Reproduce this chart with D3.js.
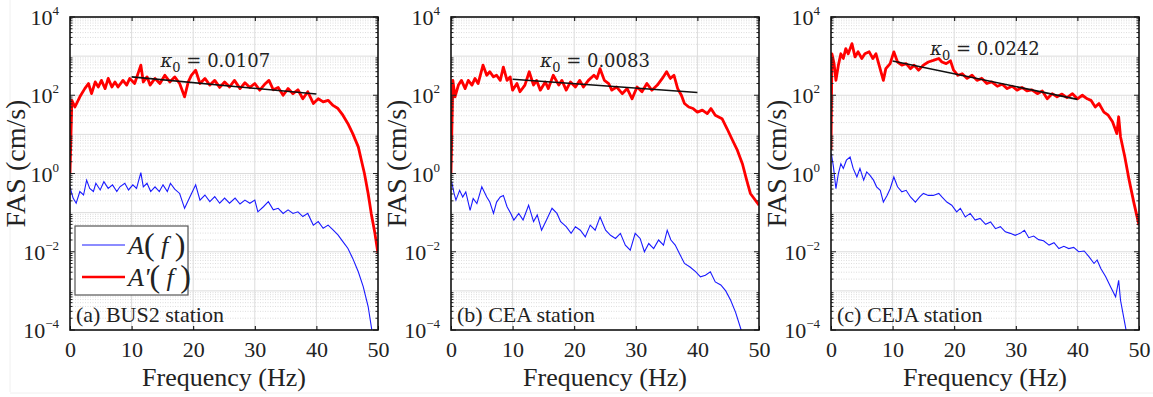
<!DOCTYPE html>
<html>
<head>
<meta charset="utf-8">
<script src="https://cdn.jsdelivr.net/npm/d3@7"></script>
</head>
<body style="margin:0">
<svg id="fas" width="1153" height="397"></svg>
<script>
// each point is [frequency (Hz), log10 of FAS (cm/s)]
const busRed = [[0,0.0],[0.3,1.87],[0.8,1.70],[1.6,1.96],[2.4,2.17],[3.0,2.30],[3.5,2.04],[4.1,2.34],[4.6,2.21],[5.1,2.38],[5.7,2.17],[6.2,2.43],[6.8,2.21],[7.3,2.34],[7.8,2.21],[8.6,2.38],[9.2,2.26],[9.7,2.43],[10.5,2.30],[11.5,2.77],[11.9,2.34],[12.5,2.47],[13.0,2.26],[13.8,2.43],[14.6,2.30],[15.4,2.51],[16.2,2.34],[17.0,2.47],[17.8,2.30],[18.6,1.96],[19.2,2.34],[19.7,2.51],[20.4,2.64],[21.1,2.30],[21.9,2.43],[22.7,2.26],[23.5,2.38],[24.3,2.20],[25.1,2.34],[25.9,2.21],[26.7,2.38],[27.6,2.17],[28.4,2.32],[29.2,2.20],[30.0,2.30],[30.8,2.13],[31.6,2.28],[32.3,2.38],[33.0,2.14],[33.8,2.20],[34.6,2.00],[35.4,2.17],[36.2,2.04],[37.0,2.14],[37.8,1.91],[38.6,2.09],[39.5,1.79],[40.3,1.91],[41.1,1.83],[41.9,1.87],[42.7,1.74],[43.5,1.66],[44.3,1.49],[45.1,1.28],[45.9,1.02],[46.8,0.68],[47.3,0.34],[47.8,0.0],[48.4,-0.51],[48.9,-1.02],[49.5,-1.53],[50.0,-2.05]];
const busBlue = [[0,-0.34],[0.5,-0.63],[1.0,-0.76],[1.6,-0.46],[2.2,-0.55],[2.7,-0.17],[3.2,-0.38],[3.8,-0.46],[4.2,-0.25],[4.9,-0.42],[5.5,-0.21],[6.2,-0.38],[6.9,-0.29],[7.6,-0.46],[8.1,-0.34],[8.9,-0.25],[9.5,-0.42],[10.2,-0.29],[10.8,-0.38],[11.5,0.02],[11.9,-0.34],[12.5,-0.25],[13.1,-0.46],[13.8,-0.34],[14.5,-0.46],[15.1,-0.29],[15.8,-0.46],[16.3,-0.25],[17.0,-0.40],[17.8,-0.51],[18.6,-0.89],[19.5,-0.59],[20.4,-0.29],[21.1,-0.68],[21.9,-0.55],[22.7,-0.72],[23.5,-0.59],[24.3,-0.76],[25.1,-0.63],[25.9,-0.76],[26.8,-0.63],[27.6,-0.78],[28.4,-0.68],[29.2,-0.76],[30.0,-0.68],[30.5,-0.98],[31.4,-0.85],[32.2,-0.72],[33.0,-0.93],[33.8,-0.89],[34.6,-1.02],[35.4,-0.93],[36.2,-1.02],[37.0,-0.98],[37.8,-1.10],[38.6,-1.02],[39.5,-1.32],[40.3,-1.23],[41.1,-1.40],[41.9,-1.32],[42.7,-1.44],[43.5,-1.57],[44.3,-1.74],[45.1,-1.91],[45.9,-2.17],[46.8,-2.51],[47.6,-2.89],[48.4,-3.40],[49.0,-4.0],[49.3,-4.3]];
const ceaRed = [[0,0.0],[0.3,2.38],[0.65,1.96],[1.2,2.26],[1.7,2.38],[2.3,2.17],[2.8,2.38],[3.4,2.26],[3.9,2.43],[4.4,2.30],[5.2,2.77],[5.8,2.51],[6.3,2.60],[6.9,2.47],[7.4,2.51],[8.0,2.38],[8.5,2.72],[9.1,2.38],[9.6,2.47],[10.0,2.13],[10.7,2.30],[11.2,2.09],[12.0,2.26],[12.7,2.60],[13.4,2.26],[13.9,2.38],[14.5,2.13],[15.3,2.34],[15.8,2.17],[16.6,2.51],[17.5,2.26],[18.0,2.38],[18.7,2.13],[19.4,2.34],[20.2,2.21],[20.9,2.38],[21.5,2.21],[22.3,2.38],[23.2,2.51],[23.7,2.43],[24.2,2.68],[24.9,2.38],[25.6,2.30],[26.1,2.13],[26.9,2.21],[27.8,2.04],[28.6,2.17],[29.4,1.91],[30.2,2.21],[31.0,2.09],[31.8,2.30],[32.6,2.13],[33.5,2.26],[34.3,2.43],[35.0,2.60],[35.6,2.43],[36.2,2.51],[36.8,2.17],[37.4,2.00],[37.9,1.79],[38.6,1.70],[39.3,1.66],[40.0,1.57],[40.8,1.62],[41.6,1.53],[42.2,1.66],[42.9,1.49],[44.0,1.40],[44.8,1.15],[45.7,0.85],[46.5,0.59],[47.3,0.25],[48.0,-0.17],[48.6,-0.51],[49.2,-0.64],[50.0,-0.81]];
const ceaBlue = [[0.1,-0.21],[0.5,-0.51],[0.8,-0.68],[1.4,-0.43],[1.9,-0.60],[2.4,-0.47],[3.1,-0.94],[3.6,-0.64],[4.2,-0.77],[5.0,-0.34],[5.8,-0.60],[6.3,-0.73],[6.9,-1.02],[7.4,-0.73],[8.0,-0.60],[8.5,-0.56],[9.1,-0.85],[9.7,-1.02],[10.2,-1.19],[11.0,-1.02],[11.7,-1.19],[12.6,-0.81],[13.4,-1.23],[14.0,-1.06],[14.7,-1.45],[15.5,-1.19],[16.4,-0.89],[17.2,-1.02],[17.8,-1.23],[18.7,-1.36],[19.5,-1.53],[20.2,-1.36],[21.0,-1.45],[21.8,-1.62],[22.6,-1.32],[23.4,-1.45],[24.2,-1.11],[25.1,-1.45],[25.9,-1.58],[26.7,-1.66],[27.5,-1.53],[28.3,-1.83],[29.1,-1.96],[29.9,-1.53],[30.7,-1.66],[31.4,-2.00],[32.1,-1.79],[32.9,-1.92],[33.7,-1.70],[34.5,-1.83],[35.1,-1.45],[35.7,-1.70],[36.4,-1.83],[37.1,-2.05],[37.9,-2.30],[38.8,-2.39],[39.7,-2.51],[40.5,-2.64],[41.3,-2.60],[42.1,-2.51],[42.9,-2.77],[43.8,-2.85],[44.6,-3.00],[45.4,-3.24],[46.2,-3.55],[47.1,-4.0],[47.4,-4.3]];
const cejaRed = [[0,0.6],[0.15,3.06],[0.5,2.81],[0.8,2.38],[1.2,2.77],[1.6,3.06],[2.0,2.94],[2.4,3.19],[2.8,3.06],[3.4,3.32],[3.9,2.98],[4.4,3.11],[5.0,2.94],[5.5,3.06],[6.2,3.11],[6.8,2.94],[7.3,3.06],[7.9,2.72],[8.5,2.38],[8.9,2.68],[9.6,2.81],[10.2,3.11],[10.8,2.85],[11.5,2.77],[12.2,2.81],[12.9,2.68],[13.5,2.77],[14.2,2.64],[15.0,2.77],[15.8,2.85],[16.6,2.89],[17.5,2.94],[18.0,2.85],[18.7,2.81],[19.4,2.88],[19.9,2.64],[20.6,2.51],[21.3,2.55],[22.1,2.43],[22.9,2.51],[23.7,2.38],[24.5,2.43],[25.3,2.30],[26.1,2.34],[27.0,2.23],[27.8,2.28],[28.6,2.17],[29.4,2.23],[30.2,2.13],[31.0,2.20],[31.8,2.11],[32.6,2.14],[33.5,2.04],[34.3,2.11],[35.1,1.91],[35.9,2.04],[36.7,1.96],[37.5,2.03],[38.3,1.94],[39.2,2.04],[40.0,1.91],[40.8,2.00],[41.6,1.91],[42.2,1.87],[42.9,1.70],[43.5,1.79],[44.3,1.57],[45.0,1.49],[45.7,1.32],[46.4,1.02],[46.7,1.45],[47.0,0.94],[47.7,0.42],[48.4,-0.17],[49.2,-0.77],[50.0,-1.32]];
const cejaBlue = [[0.05,0.51],[0.4,0.17],[0.8,-0.39],[1.2,0.0],[1.6,0.25],[2.0,0.13],[2.5,0.34],[3.1,0.42],[3.6,0.13],[4.2,-0.09],[4.7,0.13],[5.3,-0.17],[5.8,0.04],[6.3,-0.04],[6.9,-0.17],[7.4,-0.34],[8.0,-0.43],[8.5,-0.73],[9.1,-0.56],[9.6,-0.39],[10.2,-0.09],[10.8,-0.34],[11.5,-0.47],[12.2,-0.43],[12.9,-0.60],[13.7,-0.73],[14.4,-0.60],[15.0,-0.51],[15.8,-0.56],[16.6,-0.56],[17.5,-0.51],[18.0,-0.60],[18.8,-0.73],[19.6,-0.81],[20.4,-0.98],[21.0,-0.89],[21.8,-1.11],[22.6,-1.02],[23.4,-1.19],[24.2,-1.15],[25.1,-1.30],[25.9,-1.24],[26.7,-1.41],[27.5,-1.36],[28.3,-1.49],[29.1,-1.53],[29.9,-1.58],[30.7,-1.53],[31.4,-1.45],[32.1,-1.64],[32.9,-1.60],[33.7,-1.69],[34.5,-1.72],[35.4,-1.83],[36.2,-1.77],[37.0,-1.92],[37.8,-1.86],[38.6,-1.92],[39.4,-1.89],[40.2,-2.00],[41.1,-1.98],[41.9,-2.13],[42.7,-2.30],[43.2,-2.21],[43.8,-2.43],[44.6,-2.64],[45.4,-2.90],[46.2,-3.15],[46.7,-2.73],[47.0,-3.24],[47.6,-3.75],[47.9,-4.0],[48.1,-4.3]];

// kappa fit lines, 10 to 40 Hz, endpoints as log10 FAS
const fitFreq = [10, 40];
const busFit = [2.47, 2.03];
const ceaFit = [2.41, 2.07];
const cejaFit = [2.875, 1.895];

const kappas = ["0.0107", "0.0083", "0.0242"];
const stations = ["(a) BUS2 station", "(b) CEA station", "(c) CEJA station"];
const xTicks = [0, 10, 20, 30, 40, 50];
const yExps = [-4, -2, 0, 2, 4];

const panels = [
  { red: busRed, blue: busBlue, fit: busFit, left: 70, kx: 14.7, ky: 2.72, legend: true },
  { red: ceaRed, blue: ceaBlue, fit: ceaFit, left: 451, kx: 14.5, ky: 2.72, legend: false },
  { red: cejaRed, blue: cejaBlue, fit: cejaFit, left: 831, kx: 16.1, ky: 3.03, legend: false }
];

const marginTop = 17, width = 308, height = 313;
const svg = d3.select("#fas");

// faint figure frame
svg.append("line").attr("x1", 10).attr("x2", 10).attr("y1", 0).attr("y2", 392)
  .attr("stroke", "#f0f0f0");
svg.append("line").attr("x1", 10).attr("x2", 1153).attr("y1", 393).attr("y2", 393)
  .attr("stroke", "#f0f0f0");

function label(sel, size, family) {
  return sel.attr("font-family", family || "Liberation Serif")
    .style("font-family", family || "'Liberation Serif'")
    .attr("font-size", size).attr("fill", "#222");
}

panels.forEach((p, i) => {
  const g = svg.append("g").attr("transform", "translate(" + p.left + "," + marginTop + ")");

  const x = d3.scaleLinear().domain([0, 50]).range([0, width]);
  const y = d3.scaleLog().domain([1e-4, 1e4]).range([height, 0]);

  // minor grid (dotted)
  const minor = [];
  for (let e = -4; e < 4; e++) for (let m = 2; m <= 9; m++) minor.push(m * Math.pow(10, e));
  g.append("g").selectAll("line").data(minor).enter().append("line")
    .attr("x1", 0).attr("x2", width)
    .attr("y1", d => y(d)).attr("y2", d => y(d))
    .attr("stroke", "#d4d4d4").attr("stroke-width", 0.8).attr("stroke-dasharray", "1,1.5");

  // major grid
  g.append("g").selectAll("line").data(d3.range(-3, 4)).enter().append("line")
    .attr("x1", 0).attr("x2", width)
    .attr("y1", d => y(Math.pow(10, d))).attr("y2", d => y(Math.pow(10, d)))
    .attr("stroke", "#dcdcdc").attr("stroke-width", 1);
  g.append("g").selectAll("line").data(xTicks.slice(1, -1)).enter().append("line")
    .attr("x1", d => x(d)).attr("x2", d => x(d))
    .attr("y1", 0).attr("y2", height)
    .attr("stroke", "#dcdcdc").attr("stroke-width", 1);

  // curves
  const clipId = "clip" + i;
  g.append("clipPath").attr("id", clipId).append("rect")
    .attr("width", width).attr("height", height);
  const line = d3.line().x(d => x(d[0])).y(d => y(Math.pow(10, d[1])));
  const plot = g.append("g").attr("clip-path", "url(#" + clipId + ")");
  plot.append("path").datum(p.blue).attr("d", line)
    .attr("fill", "none").attr("stroke", "#1a1aff").attr("stroke-width", 1.1);
  plot.append("path").datum(p.red).attr("d", line)
    .attr("fill", "none").attr("stroke", "#ff0000").attr("stroke-width", 2.8)
    .attr("stroke-linejoin", "round");
  plot.append("path").datum(fitFreq.map((f, k) => [f, p.fit[k]])).attr("d", line)
    .attr("fill", "none").attr("stroke", "#111").attr("stroke-width", 1.6);

  // axes box with inward ticks
  g.append("g").attr("transform", "translate(0," + height + ")")
    .call(d3.axisBottom(x).tickValues(xTicks).tickSize(-4).tickPadding(10).tickFormat(d3.format("d")))
    .call(a => a.select(".domain").remove())
    .call(a => label(a.selectAll("text"), 22).attr("dy", "0.75em"));
  g.append("g")
    .call(d3.axisTop(x).tickValues(xTicks).tickSize(-4).tickFormat(""))
    .call(a => a.select(".domain").remove());
  [0, width].forEach((xx, side) => {
    g.append("g").selectAll("line").data(minor).enter().append("line")
      .attr("x1", xx).attr("x2", side ? xx - 2.5 : xx + 2.5)
      .attr("y1", d => y(d)).attr("y2", d => y(d)).attr("stroke", "#222");
    g.append("g").selectAll("line").data(yExps).enter().append("line")
      .attr("x1", xx).attr("x2", side ? xx - 5 : xx + 5)
      .attr("y1", d => y(Math.pow(10, d))).attr("y2", d => y(Math.pow(10, d))).attr("stroke", "#222");
  });
  g.append("rect").attr("width", width).attr("height", height)
    .attr("fill", "none").attr("stroke", "#111").attr("stroke-width", 1.6);

  // y tick labels 10^n
  const yl = label(g.append("g").selectAll("text").data(yExps).enter().append("text"), 22)
    .attr("x", -11).attr("y", d => y(Math.pow(10, d)) + 8)
    .attr("text-anchor", "end");
  yl.append("tspan").text("10");
  yl.append("tspan").attr("dy", -10).attr("font-size", 13)
    .text(d => d < 0 ? "\u2212" + Math.abs(d) : d);

  // axis titles
  label(g.append("text"), 26).attr("x", width / 2).attr("y", height + 56)
    .attr("text-anchor", "middle").text("Frequency (Hz)");
  label(g.append("text"), 28).attr("transform", "translate(-45," + (y(1) - 10) + ") rotate(-90)")
    .attr("text-anchor", "middle").text("FAS (cm/s)");

  // kappa annotation
  const kt = label(g.append("text"), 18, "DejaVu Serif")
    .attr("x", x(p.kx)).attr("y", y(Math.pow(10, p.ky)));
  kt.append("tspan").attr("font-style", "italic").text("\u03ba");
  kt.append("tspan").attr("dy", 5).attr("font-size", 13).text("0");
  kt.append("tspan").attr("dy", -5).text(" = " + kappas[i]);

  // station label
  label(g.append("text"), 22).attr("x", 6).attr("y", height - 8).text(stations[i]);

  if (p.legend) {
    const lg = g.append("g").attr("transform", "translate(5,209)");
    lg.append("rect").attr("width", 113).attr("height", 69)
      .attr("fill", "#fff").attr("stroke", "#555").attr("stroke-width", 1.2);
    const items = [{ c: "#1a1aff", w: 1.1, lab: "A" }, { c: "#ff0000", w: 2.6, lab: "A'" }];
    items.forEach((it, k) => {
      const yy = 19 + k * 32;
      lg.append("line").attr("x1", 7).attr("x2", 50).attr("y1", yy).attr("y2", yy)
        .attr("stroke", it.c).attr("stroke-width", it.w);
      const t = label(lg.append("text"), 26).attr("x", 53).attr("y", yy + 9);
      t.append("tspan").attr("font-style", "italic").text(it.lab);
      t.append("tspan").attr("font-size", 32).attr("dy", 1).text("(");
      t.append("tspan").attr("font-style", "italic").attr("dy", -1).text(" f ");
      t.append("tspan").attr("font-size", 32).attr("dy", 1).text(")");
    });
  }
});
</script>
</body>
</html>
